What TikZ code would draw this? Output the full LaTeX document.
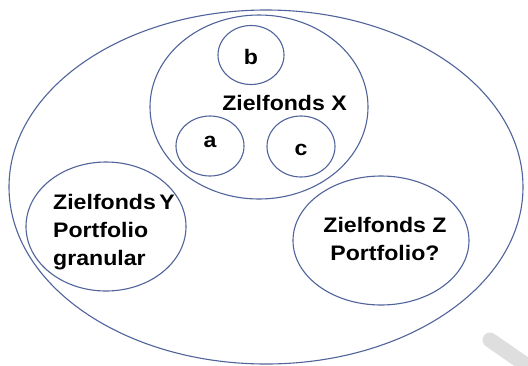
\documentclass[tikz,border=0pt]{standalone}
\usepackage{fontspec}
\setmainfont[FakeStretch=1.1]{Liberation Sans}
\usetikzlibrary{shapes.geometric}
\definecolor{ringblue}{RGB}{80,100,155}
\definecolor{markgray}{RGB}{222,222,222}
\begin{document}
\begin{tikzpicture}[x=1pt,y=-1pt,
  ring/.style={draw=ringblue,line width=1.1pt,ellipse,inner sep=0pt},
  lbl/.style={font=\fontsize{21}{28}\selectfont\bfseries,inner sep=0pt}]
\useasboundingbox (0,0) rectangle (528,365);
\fill[white] (0,0) rectangle (528,365);
% watermark stroke
\draw[markgray,line width=15pt,line cap=round] (490,340) -- (545,378);
% outer
\node[ring,minimum width=514pt,minimum height=354pt] (outer) at (266,187) {};
% Zielfonds X
\node[ring,minimum width=218pt,minimum height=184pt] (fx) at (259,107) {};
\node[ring,minimum width=66pt,minimum height=59pt] (cb) at (251,55) {};
\node[ring,minimum width=68pt,minimum height=60pt] (ca) at (210,146) {};
\node[ring,minimum width=68pt,minimum height=61pt] (cc) at (301,146.5) {};
% Y and Z
\node[ring,minimum width=160pt,minimum height=129pt] (fy) at (106,226.5) {};
\node[ring,minimum width=176pt,minimum height=129pt] (fz) at (381,240.5) {};
% texts
\node[lbl,anchor=base] (tx) at (284.5,110) {Zielfonds X};
\node[lbl,anchor=base] (tb) at (251,64) {b};
\node[lbl,anchor=base] (ta) at (210,147) {a};
\node[lbl,anchor=base] (tc) at (301,155) {c};
\node[lbl,anchor=base west,align=left] (ty) at (53,265) {Zielfonds\,Y\\Portfolio\\granular};
\node[lbl,anchor=base,align=center] (tz) at (385,260) {Zielfonds Z\\Portfolio?};
\end{tikzpicture}
\end{document}
